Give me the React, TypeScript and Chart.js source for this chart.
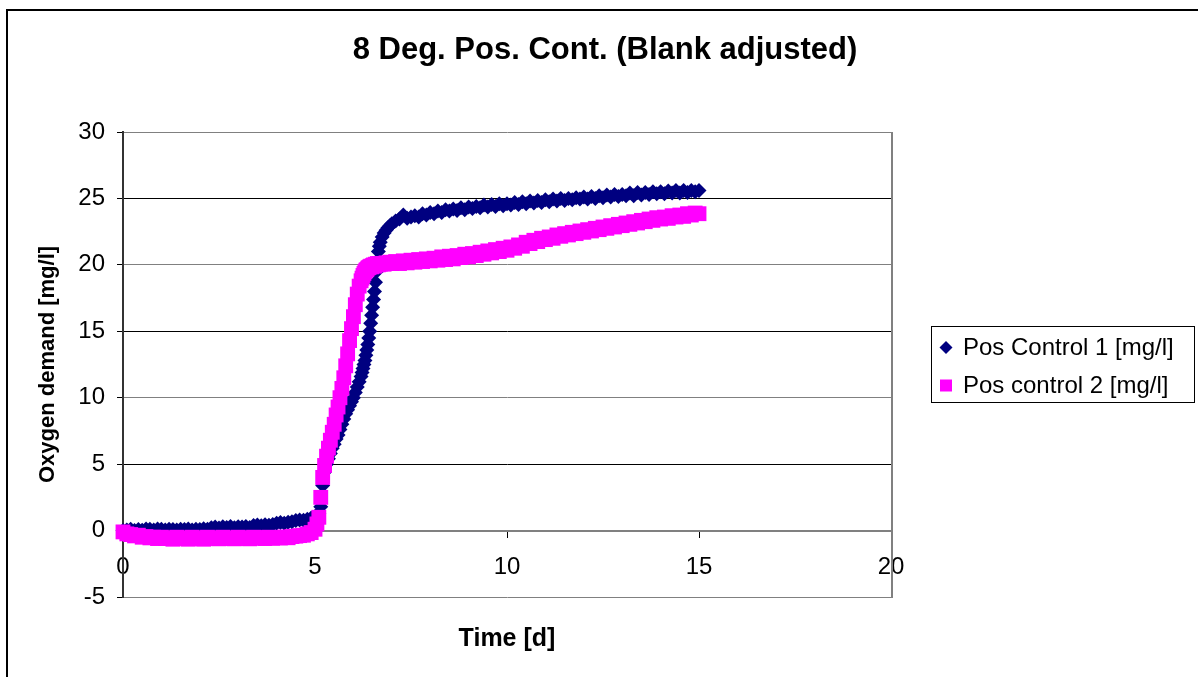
import React, { useEffect, useRef } from 'react';
import { Chart, registerables, layouts } from 'chart.js';

Chart.register(...registerables);

const CHART_TITLE = '8 Deg. Pos. Cont. (Blank adjusted)';
const X_TITLE = 'Time [d]';
const Y_TITLE = 'Oxygen demand [mg/l]';
const SERIES_LABELS = ['Pos Control 1 [mg/l]', 'Pos control 2 [mg/l]'];

const X_MIN = 0;
const X_MAX = 20;
const X_STEP = 5;
const Y_MIN = -5;
const Y_MAX = 30;
const Y_STEP = 5;

const TIME_DAYS = [
  0, 0.1, 0.2, 0.3, 0.4, 0.5, 0.6, 0.7, 0.8, 0.9,
  1, 1.1, 1.2, 1.3, 1.4, 1.5, 1.6, 1.7, 1.8, 1.9,
  2, 2.1, 2.2, 2.3, 2.4, 2.5, 2.6, 2.7, 2.8, 2.9,
  3, 3.1, 3.2, 3.3, 3.4, 3.5, 3.6, 3.7, 3.8, 3.9,
  4, 4.1, 4.2, 4.3, 4.4, 4.5, 4.6, 4.7, 4.8, 4.9,
  5, 5.05, 5.1, 5.15, 5.2, 5.25, 5.3, 5.35, 5.4, 5.45, 5.5, 5.55, 5.6, 5.65, 5.7, 5.75, 5.8, 5.85, 5.9, 5.95, 6, 6.05, 6.1, 6.15, 6.2,
  6.225, 6.25, 6.275, 6.3, 6.325, 6.35, 6.375, 6.4, 6.425, 6.45, 6.475, 6.5, 6.525, 6.55, 6.575, 6.6, 6.625, 6.65, 6.675, 6.7,
  6.75, 6.8, 6.85, 6.9, 6.95, 7,
  7.1, 7.2, 7.3, 7.4, 7.5, 7.6, 7.7, 7.8, 7.9,
  8, 8.1, 8.2, 8.3, 8.4, 8.5, 8.6, 8.7, 8.8, 8.9,
  9, 9.1, 9.2, 9.3, 9.4, 9.5, 9.6, 9.7, 9.8, 9.9,
  10, 10.1, 10.2, 10.3, 10.4, 10.5, 10.6, 10.7, 10.8, 10.9,
  11, 11.1, 11.2, 11.3, 11.4, 11.5, 11.6, 11.7, 11.8, 11.9,
  12, 12.1, 12.2, 12.3, 12.4, 12.5, 12.6, 12.7, 12.8, 12.9,
  13, 13.1, 13.2, 13.3, 13.4, 13.5, 13.6, 13.7, 13.8, 13.9,
  14, 14.1, 14.2, 14.3, 14.4, 14.5, 14.6, 14.7, 14.8, 14.9,
  15,
];

const POS_CONTROL_1 = [
  0, 0.05, 0.1, 0, 0.08, 0.02, 0.12, 0.1, 0.05, 0.12,
  0.1, 0.05, 0.1, 0.08, 0.04, 0.1, 0.08, 0.12, 0.05, 0.1,
  0.08, 0.14, 0.1, 0.22, 0.26, 0.2, 0.28, 0.24, 0.3, 0.22,
  0.28, 0.26, 0.3, 0.24, 0.38, 0.42, 0.36, 0.44, 0.4, 0.46,
  0.55, 0.6, 0.56, 0.62, 0.66, 0.75, 0.8, 0.78, 0.86, 0.95,
  1.05, 1.15, 1.3, 1.8, 3.4, 4.4, 5.0, 5.4, 5.8, 6.2, 6.5, 6.9, 7.2, 7.6, 8.0, 8.4, 8.8, 9.1, 9.4, 9.7, 10.0, 10.4, 10.8, 11.2, 11.6,
  11.9, 12.2, 12.5, 12.8, 13.2, 13.6, 14.0, 14.5, 15.0, 15.6, 16.2, 16.8, 17.4, 18.0, 18.7, 19.5, 20.3, 21.0, 21.4, 21.7,
  22.1, 22.4, 22.6, 22.8, 22.95, 23.1,
  23.3, 23.45, 23.75, 23.5, 23.6, 23.7, 23.6, 23.85, 23.75,
  23.95, 23.85, 24.05, 23.95, 24.15, 24.05, 24.2, 24.1, 24.3, 24.15,
  24.35, 24.25, 24.4, 24.3, 24.5, 24.35, 24.55, 24.4, 24.6, 24.45,
  24.6, 24.5, 24.7, 24.55, 24.75, 24.6, 24.8, 24.65, 24.85, 24.7,
  24.9, 24.75, 24.95, 24.8, 25.0, 24.85, 25.0, 24.9, 25.05, 24.95,
  25.1, 24.95, 25.15, 25.0, 25.2, 25.05, 25.25, 25.1, 25.3, 25.15,
  25.3, 25.2, 25.4, 25.2, 25.45, 25.25, 25.45, 25.3, 25.5, 25.35,
  25.5, 25.35, 25.55, 25.4, 25.6, 25.4, 25.6, 25.45, 25.6, 25.5,
  25.6,
];

const POS_CONTROL_2 = [
  -0.1, -0.25, -0.3, -0.4, -0.35, -0.5, -0.45, -0.55, -0.5, -0.6,
  -0.5, -0.6, -0.55, -0.65, -0.5, -0.6, -0.55, -0.65, -0.5, -0.6,
  -0.55, -0.65, -0.5, -0.6, -0.55, -0.62, -0.5, -0.6, -0.55, -0.62,
  -0.5, -0.6, -0.55, -0.62, -0.5, -0.58, -0.52, -0.6, -0.5, -0.58,
  -0.52, -0.56, -0.48, -0.54, -0.45, -0.42, -0.38, -0.35, -0.25, -0.15,
  0.1, 0.5, 1.0, 2.5, 4.0, 4.9, 5.6, 6.2, 6.8, 7.4, 8.0, 8.7, 9.3, 10.0, 10.7, 11.5, 12.4, 13.3, 14.3, 15.2, 16.1, 17.0, 17.8, 18.4, 18.8,
  19.0, 19.2, 19.35, 19.5, 19.6, 19.65, 19.75, 19.8, 19.85, 19.9, 19.85, 19.95, 20.0, 19.9, 20.05, 20.0, 20.1, 20.0, 20.1, 20.05,
  20.1, 20.05, 20.15, 20.1, 20.2, 20.1,
  20.25, 20.1, 20.3, 20.15, 20.35, 20.2, 20.4, 20.25, 20.45,
  20.3, 20.5, 20.35, 20.6, 20.4, 20.65, 20.45, 20.7, 20.55, 20.8,
  20.6, 20.85, 20.7, 20.95, 20.8, 21.05, 20.9, 21.15, 21.0, 21.25,
  21.1, 21.35, 21.25, 21.5, 21.4, 21.7, 21.6, 21.85, 21.75, 22.0,
  21.9, 22.1, 22.0, 22.25, 22.15, 22.35, 22.25, 22.45, 22.35, 22.55,
  22.45, 22.65, 22.55, 22.75, 22.65, 22.85, 22.75, 22.95, 22.85, 23.05,
  22.95, 23.15, 23.05, 23.25, 23.15, 23.35, 23.25, 23.45, 23.35, 23.55,
  23.45, 23.6, 23.5, 23.7, 23.6, 23.75, 23.65, 23.85, 23.75, 23.9,
  23.85,
];

const FONT = '"Liberation Sans", Arial, Helvetica, sans-serif';
const NAVY = '#000080';
const MAGENTA = '#FF00FF';
const LEGEND_AREA_WIDTH = 307;

function drawMarker(ctx: CanvasRenderingContext2D, style: string, cx: number, cy: number, color: string) {
  ctx.fillStyle = color;
  ctx.beginPath();
  if (style === 'rectRot') {
    const r = 6.5;
    ctx.moveTo(cx - r, cy);
    ctx.lineTo(cx, cy - r);
    ctx.lineTo(cx + r, cy);
    ctx.lineTo(cx, cy + r);
    ctx.closePath();
  } else {
    const h = 6;
    ctx.rect(cx - h, cy - h, 2 * h, 2 * h);
  }
  ctx.fill();
}

const boxLegendPlugin: any = {
  id: 'boxLegend',
  start(chart: any) {
    const box: any = {
      position: 'right',
      weight: 0,
      fullSize: false,
      options: {},
      left: 0, top: 0, right: 0, bottom: 0, width: 0, height: 0,
      isHorizontal() { return false; },
      update(_maxWidth: number, maxHeight: number) {
        this.width = LEGEND_AREA_WIDTH;
        this.height = maxHeight;
      },
      draw() {
        const ctx: CanvasRenderingContext2D = chart.ctx;
        const x0 = this.left + 40.5;
        const y0 = 326.5;
        ctx.save();
        ctx.strokeStyle = '#000';
        ctx.lineWidth = 1;
        ctx.strokeRect(x0, y0, 263, 76);
        ctx.font = `24px ${FONT}`;
        ctx.textBaseline = 'middle';
        ctx.textAlign = 'left';
        chart.data.datasets.forEach((ds: any, i: number) => {
          const cy = y0 + 21 + i * 38;
          drawMarker(ctx, ds.pointStyle, x0 + 14.5, cy, ds.backgroundColor);
          ctx.fillStyle = '#000';
          ctx.fillText(ds.label, x0 + 31.5, cy + 1);
        });
        ctx.restore();
      },
    };
    chart.$boxLegend = box;
    layouts.addBox(chart, box);
  },
  stop(chart: any) {
    if (chart.$boxLegend) layouts.removeBox(chart, chart.$boxLegend);
  },
};

const plotFramePlugin: any = {
  id: 'plotFrame',
  beforeDatasetsDraw(chart: any) {
    const { ctx, chartArea } = chart;
    ctx.save();
    ctx.strokeStyle = '#808080';
    ctx.lineWidth = 2;
    ctx.beginPath();
    ctx.moveTo(chartArea.right + 1, chartArea.top);
    ctx.lineTo(chartArea.right + 1, chartArea.bottom + 1);
    ctx.stroke();
    ctx.restore();
  },
};

export default function App() {
  const canvasRef = useRef<HTMLCanvasElement>(null);

  useEffect(() => {
    const canvas = canvasRef.current;
    if (!canvas) return;
    const chart = new Chart(canvas, {
      type: 'scatter',
      data: {
        datasets: [
          {
            label: SERIES_LABELS[0],
            data: TIME_DAYS.map((t, i) => ({ x: t, y: POS_CONTROL_1[i] })),
            pointStyle: 'rectRot',
            pointRadius: 7.5,
            borderWidth: 0,
            backgroundColor: NAVY,
            borderColor: NAVY,
            order: 1,
            clip: false,
          } as any,
          {
            label: SERIES_LABELS[1],
            data: TIME_DAYS.map((t, i) => ({ x: t, y: POS_CONTROL_2[i] })),
            pointStyle: 'rect',
            pointRadius: 10.5,
            borderWidth: 0,
            backgroundColor: MAGENTA,
            borderColor: MAGENTA,
            order: 0,
            clip: false,
          } as any,
        ],
      },
      options: {
        responsive: false,
        maintainAspectRatio: false,
        animation: false,
        events: [],
        layout: { padding: { left: 12, right: 0, top: 0, bottom: 80 } },
        plugins: {
          legend: { display: false },
          tooltip: { enabled: false },
          title: {
            display: true,
            text: CHART_TITLE,
            color: '#000',
            font: { family: FONT, size: 31, weight: 'bold' },
            padding: { top: 31.4, bottom: 63.4 },
          },
        },
        scales: {
          x: {
            type: 'linear',
            position: { y: 0 } as any,
            min: X_MIN,
            max: X_MAX,
            ticks: {
              stepSize: X_STEP,
              color: '#000',
              font: { family: FONT, size: 24 },
              padding: 16,
              maxRotation: 0,
            },
            grid: {
              drawOnChartArea: false,
              tickLength: 6,
              tickColor: '#000',
              color: '#000',
            },
            border: { color: '#808080', width: 2 },
            title: {
              display: true,
              text: X_TITLE,
              color: '#000',
              font: { family: FONT, size: 25, weight: 'bold' },
              padding: 0,
            },
            afterFit: (scale: any) => { scale.height = 124; },
          } as any,
          y: {
            type: 'linear',
            position: 'left',
            min: Y_MIN,
            max: Y_MAX,
            ticks: {
              stepSize: Y_STEP,
              color: '#000',
              font: { family: FONT, size: 24 },
              padding: 12,
            },
            grid: {
              color: (ctx: any) => {
                const v = ctx.tick ? ctx.tick.value : 0;
                return v % 10 === 0 || v === Y_MIN ? '#808080' : '#000000';
              },
              tickLength: 6,
              tickColor: '#000',
            },
            border: { color: '#333333', width: 2 },
            title: {
              display: true,
              text: Y_TITLE,
              color: '#000',
              font: { family: FONT, size: 22, weight: 'bold' },
              padding: { top: 22.8, bottom: 0 },
            },
            afterFit: (scale: any) => { scale.width = 111; },
          } as any,
        },
      },
      plugins: [boxLegendPlugin, plotFramePlugin],
    });
    return () => chart.destroy();
  }, []);

  return (
    <>
      <div
        style={{
          position: 'fixed',
          left: 6,
          top: 9,
          width: 1192,
          height: 668,
          borderLeft: '2px solid #000',
          borderTop: '2px solid #000',
          boxSizing: 'border-box',
          pointerEvents: 'none',
        }}
      />
      <canvas
        ref={canvasRef}
        width={1198}
        height={677}
        style={{ position: 'fixed', left: 0, top: 0, width: 1198, height: 677, display: 'block' }}
      />
    </>
  );
}
